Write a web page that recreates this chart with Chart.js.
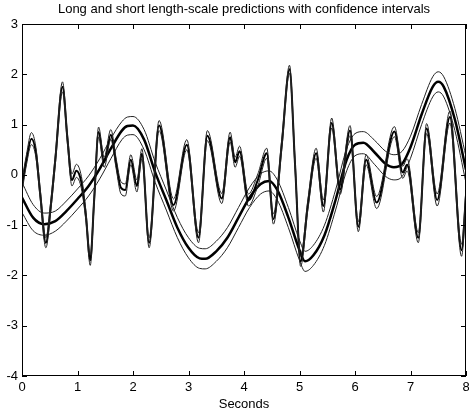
<!DOCTYPE html>
<html>
<head>
<meta charset="utf-8">
<title>Long and short length-scale predictions</title>
<script src="https://cdn.jsdelivr.net/npm/chart.js@4/dist/chart.umd.min.js"></script>
<style>
    html, body { margin: 0; padding: 0; background: #fff; }
    #wrap { width: 469px; height: 418px; }
</style>
</head>
<body>
<div id="wrap"><canvas id="chart" width="469" height="418"></canvas></div>
<script>
'use strict';

// long length-scale prediction (smooth curve) and its interval half-width
var longX    = [0, 0.2, 0.4, 0.6, 0.8, 1.0, 1.2, 1.4, 1.6, 1.8, 1.9, 2.0, 2.2, 2.4, 2.6, 2.8, 3.0, 3.2, 3.3, 3.5, 3.7, 3.9, 4.1, 4.3, 4.45, 4.6, 4.8, 5.0, 5.1, 5.25, 5.45, 5.65, 5.85, 6.0, 6.15, 6.35, 6.55, 6.7, 6.85, 7.0, 7.2, 7.4, 7.5, 7.6, 7.8, 8.0];
var longMean = [-0.45, -0.85, -0.98, -0.92, -0.72, -0.48, -0.22, 0.12, 0.52, 0.88, 0.97, 0.98, 0.7, 0.05, -0.5, -1.05, -1.45, -1.66, -1.67, -1.52, -1.25, -0.85, -0.45, -0.18, -0.12, -0.3, -0.85, -1.5, -1.72, -1.6, -1.2, -0.5, 0.3, 0.6, 0.64, 0.45, 0.22, 0.15, 0.22, 0.55, 1.2, 1.75, 1.85, 1.75, 1.1, 0.1];
var longSd   = [0.3, 0.26, 0.22, 0.2, 0.2, 0.2, 0.2, 0.2, 0.2, 0.18, 0.18, 0.18, 0.2, 0.2, 0.2, 0.2, 0.2, 0.2, 0.2, 0.2, 0.2, 0.2, 0.2, 0.2, 0.2, 0.2, 0.2, 0.2, 0.2, 0.2, 0.2, 0.2, 0.22, 0.22, 0.22, 0.24, 0.25, 0.25, 0.25, 0.22, 0.2, 0.2, 0.2, 0.2, 0.22, 0.26];

// short length-scale prediction (wiggly curve) and its interval half-width
var shortX    = [0, 0.08, 0.17, 0.25, 0.33, 0.43, 0.52, 0.6, 0.73, 0.82, 0.9, 0.98, 1.07, 1.15, 1.23, 1.3, 1.38, 1.48, 1.6, 1.7, 1.78, 1.86, 1.96, 2.07, 2.16, 2.29, 2.47, 2.73, 2.97, 3.18, 3.34, 3.6, 3.75, 3.84, 3.92, 4.08, 4.25, 4.41, 4.53, 4.68, 4.82, 4.92, 5.02, 5.15, 5.3, 5.43, 5.58, 5.73, 5.91, 6.06, 6.2, 6.39, 6.71, 6.86, 6.94, 7.14, 7.29, 7.48, 7.71, 7.92, 8.0];
var shortMean = [-0.22, 0.3, 0.72, 0.45, -0.4, -1.35, -0.6, 0.3, 1.75, 0.7, -0.1, 0.08, -0.15, -0.8, -1.7, -0.5, 0.85, 0.25, 0.8, 0.2, -0.25, -0.3, 0.3, -0.22, 0.42, -1.35, 0.98, -0.6, 0.6, -1.25, 0.78, -0.47, 0.75, 0.25, 0.47, -0.5, -0.1, 0.43, -0.88, 0.6, 2.1, 0.2, -1.72, -0.6, 0.43, -0.62, 1.03, -0.29, 0.88, -1.03, 0.3, -0.55, 0.86, 0.05, 0.2, -1.25, 0.92, -0.5, 1.15, -1.5, -0.4];
var shortSd   = [0.12, 0.1, 0.12, 0.1, 0.1, 0.1, 0.1, 0.1, 0.1, 0.1, 0.12, 0.13, 0.12, 0.1, 0.1, 0.1, 0.1, 0.1, 0.1, 0.1, 0.12, 0.12, 0.1, 0.12, 0.1, 0.1, 0.1, 0.12, 0.1, 0.1, 0.1, 0.1, 0.1, 0.1, 0.1, 0.12, 0.12, 0.1, 0.1, 0.1, 0.08, 0.1, 0.1, 0.1, 0.1, 0.12, 0.1, 0.1, 0.1, 0.1, 0.1, 0.12, 0.1, 0.12, 0.12, 0.1, 0.1, 0.12, 0.12, 0.12, 0.12];

var xTicks = [0, 1, 2, 3, 4, 5, 6, 7, 8];
var yTicks = [-4, -3, -2, -1, 0, 1, 2, 3];

var FONT = '"Liberation Sans", Arial, Helvetica, sans-serif';

function band(xs, mean, sd, sign) {
    return xs.map(function (x, i) {
        return { x: x, y: mean[i] + sign * sd[i] };
    });
}

function line(data, width, color) {
    return {
        data: data,
        borderColor: color,
        borderWidth: width,
        pointRadius: 0,
        fill: false,
        cubicInterpolationMode: 'monotone'
    };
}

// MATLAB style box with inward tick marks on all four sides
var boxPlugin = {
    id: 'matlabBox',
    afterDraw: function (chart) {
        var ctx = chart.ctx;
        var a = chart.chartArea;
        var xs = chart.scales.x;
        var ys = chart.scales.y;
        var len = 5;
        ctx.save();
        ctx.strokeStyle = '#000';
        ctx.lineWidth = 1;
        ctx.strokeRect(a.left + 0.5, a.top + 0.5, a.right - a.left - 1, a.bottom - a.top - 1);
        ctx.beginPath();
        xTicks.forEach(function (v) {
            var px = Math.round(xs.getPixelForValue(v)) + 0.5;
            ctx.moveTo(px, a.bottom);
            ctx.lineTo(px, a.bottom - len);
            ctx.moveTo(px, a.top);
            ctx.lineTo(px, a.top + len);
        });
        yTicks.forEach(function (v) {
            var py = Math.round(ys.getPixelForValue(v)) + 0.5;
            ctx.moveTo(a.left, py);
            ctx.lineTo(a.left + len, py);
            ctx.moveTo(a.right, py);
            ctx.lineTo(a.right - len, py);
        });
        ctx.stroke();
        ctx.restore();
    }
};

var datasets = [
    line(band(shortX, shortMean, shortSd, 1), 1, '#222'),
    line(band(shortX, shortMean, shortSd, -1), 1, '#222'),
    line(band(shortX, shortMean, shortSd, 0), 2, '#000'),
    line(band(longX, longMean, longSd, 1), 1, '#222'),
    line(band(longX, longMean, longSd, -1), 1, '#222'),
    line(band(longX, longMean, longSd, 0), 2.5, '#000')
];

var chart = new Chart(document.getElementById('chart'), {
    type: 'line',
    data: { datasets: datasets },
    options: {
        responsive: false,
        animation: false,
        events: [],
        layout: { padding: { left: 0, right: 3, top: 0, bottom: 0 } },
        plugins: {
            legend: { display: false },
            title: { display: false },
            tooltip: { enabled: false }
        },
        scales: {
            x: {
                type: 'linear',
                position: 'bottom',
                min: 0,
                max: 8,
                afterBuildTicks: function (scale) {
                    scale.ticks = xTicks.map(function (v) { return { value: v }; });
                },
                afterFit: function (scale) {
                    scale.height = 42;
                    scale.paddingLeft = 0;
                    scale.paddingRight = 0;
                },
                grid: { display: false, drawTicks: false },
                border: { display: false },
                ticks: {
                    color: '#000',
                    padding: 4,
                    maxRotation: 0,
                    autoSkip: false,
                    font: { family: FONT, size: 13 }
                },
                title: {
                    display: true,
                    text: 'Seconds',
                    color: '#000',
                    padding: { top: 0, bottom: 6 },
                    font: { family: FONT, size: 13 }
                }
            },
            top: {
                type: 'linear',
                position: 'top',
                min: 0,
                max: 8,
                afterFit: function (scale) {
                    scale.height = 24;
                    scale.paddingLeft = 0;
                    scale.paddingRight = 0;
                },
                grid: { display: false, drawTicks: false },
                border: { display: false },
                ticks: { display: false },
                title: {
                    display: true,
                    text: 'Long and short length-scale predictions with confidence intervals',
                    color: '#000',
                    padding: { top: 2, bottom: 0 },
                    font: { family: FONT, size: 13 }
                }
            },
            y: {
                type: 'linear',
                position: 'left',
                min: -4,
                max: 3,
                afterBuildTicks: function (scale) {
                    scale.ticks = yTicks.map(function (v) { return { value: v }; });
                },
                afterFit: function (scale) {
                    scale.width = 22;
                    scale.paddingTop = 0;
                    scale.paddingBottom = 0;
                },
                grid: { display: false, drawTicks: false },
                border: { display: false },
                ticks: {
                    color: '#000',
                    padding: 4,
                    autoSkip: false,
                    font: { family: FONT, size: 13 }
                }
            }
        }
    },
    plugins: [boxPlugin]
});
</script>
</body>
</html>
